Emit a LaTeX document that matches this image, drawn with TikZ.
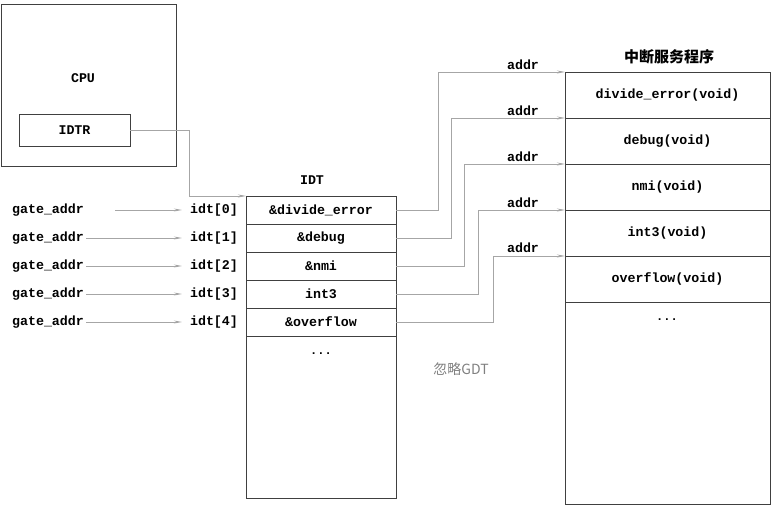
\documentclass[tikz,border=0pt]{standalone}
\usepackage{fontspec}
\setmonofont{Liberation Mono}
\newfontfamily\cjk{Noto Sans CJK SC}
\usetikzlibrary{arrows.meta}
\newcommand\codefnt{\fontsize{13.3}{15}\selectfont\ttfamily\bfseries}
\newcommand\dotfnt{\fontsize{12}{13}\selectfont\ttfamily\bfseries}
\tikzset{
  box/.style  = {draw=black!75, line width=0.8pt, rectangle,
                 inner sep=0pt, outer sep=0pt, font=\codefnt},
  idtrow/.style = {box, minimum width=150, minimum height=28},
  isrrow/.style = {box, minimum width=205, minimum height=46},
  txt/.style  = {inner sep=2pt, font=\codefnt},
  link/.style = {draw=black!35, line width=0.7pt,
                 -{Stealth[length=8pt, width=3pt, fill=black!35]}}
}

\begin{document}
\begin{tikzpicture}[x=1pt, y=-1pt]
	\useasboundingbox (0,0) rectangle (774,510);
	\def \ix{321}  % IDT column
	\def \sx{667.5} % service column
	
	% CPU
	\node[box, minimum width=175, minimum height=162] (cpu) at (88.5,85) {};
	\node[txt] (cpuname) at (83,78) {CPU};
	\node[box, minimum width=111, minimum height=32] (idtr) at (74.5,130) {IDTR};
	
	% IDT
	\node[txt] (idtname) at (312,180) {IDT};
	\node[idtrow] (r0) at (\ix,210) {\&divide\_error};
	\node[idtrow] (r1) at (\ix,238) {\&debug};
	\node[idtrow] (r2) at (\ix,266) {\&nmi};
	\node[idtrow] (r3) at (\ix,294) {int3};
	\node[idtrow] (r4) at (\ix,322) {\&overflow};
	\node[box, minimum width=150, minimum height=162] (rest) at (\ix,417) {};
	\node[txt, font=\dotfnt] (idtdots) at (\ix,354) {...};
	
	% Gate addresses
	\node[txt] (g0) at (48,210) {gate\_addr};
	\node[txt] (g1) at (48,238) {gate\_addr};
	\node[txt] (g2) at (48,266) {gate\_addr};
	\node[txt] (g3) at (48,294) {gate\_addr};
	\node[txt] (g4) at (48,322) {gate\_addr};
	\node[txt] (i0) at (214,210) {idt[0]};
	\node[txt] (i1) at (214,238) {idt[1]};
	\node[txt] (i2) at (214,266) {idt[2]};
	\node[txt] (i3) at (214,294) {idt[3]};
	\node[txt] (i4) at (214,322) {idt[4]};
	
	% Service routines
	\node[font=\cjk\bfseries\fontsize{15}{17}\selectfont] (isrname) at (669,57) {中断服务程序};
	\node[isrrow] (s0) at (\sx,95)  {divide\_error(void)};
	\node[isrrow] (s1) at (\sx,141) {debug(void)};
	\node[isrrow] (s2) at (\sx,187) {nmi(void)};
	\node[isrrow] (s3) at (\sx,233) {int3(void)};
	\node[isrrow] (s4) at (\sx,279) {overflow(void)};
	\node[box, minimum width=205, minimum height=202] (srest) at (\sx,403) {};
	\node[txt, font=\dotfnt] (isrdots) at (667,320) {...};
	
	% addr labels
	\node[txt] (a0) at (523,65)  {addr};
	\node[txt] (a1) at (523,111) {addr};
	\node[txt] (a2) at (523,157) {addr};
	\node[txt] (a3) at (523,203) {addr};
	\node[txt] (a4) at (523,248) {addr};
	
	\node[font=\cjk\fontsize{14}{16}\selectfont, text=black!50] (nogdt) at (461,369) {忽略GDT};
	
	% IDTR -> IDT
	\coordinate (bend) at (189,0);
	\draw[link] (idtr.east) -- (idtr.east -| bend) |- (r0.north west);
	
	% gate_addr -> idt[i]
	\draw[link] ([xshift=29pt]g0.east) -- ([xshift=-6pt]i0.west);
	\draw[link] (g1.east) -- ([xshift=-6pt]i1.west);
	\draw[link] (g2.east) -- ([xshift=-6pt]i2.west);
	\draw[link] (g3.east) -- ([xshift=-6pt]i3.west);
	\draw[link] (g4.east) -- ([xshift=-6pt]i4.west);
	
	% IDT -> service routines
	\draw[link] (r0.east) -- ++(42,0) |- (s0.north west);
	\draw[link] (r1.east) -- ++(55,0) |- (s1.north west);
	\draw[link] (r2.east) -- ++(68,0) |- (s2.north west);
	\draw[link] (r3.east) -- ++(82,0) |- (s3.north west);
	\draw[link] (r4.east) -- ++(97,0) |- (s4.north west);
	
\end{tikzpicture}
\end{document}
